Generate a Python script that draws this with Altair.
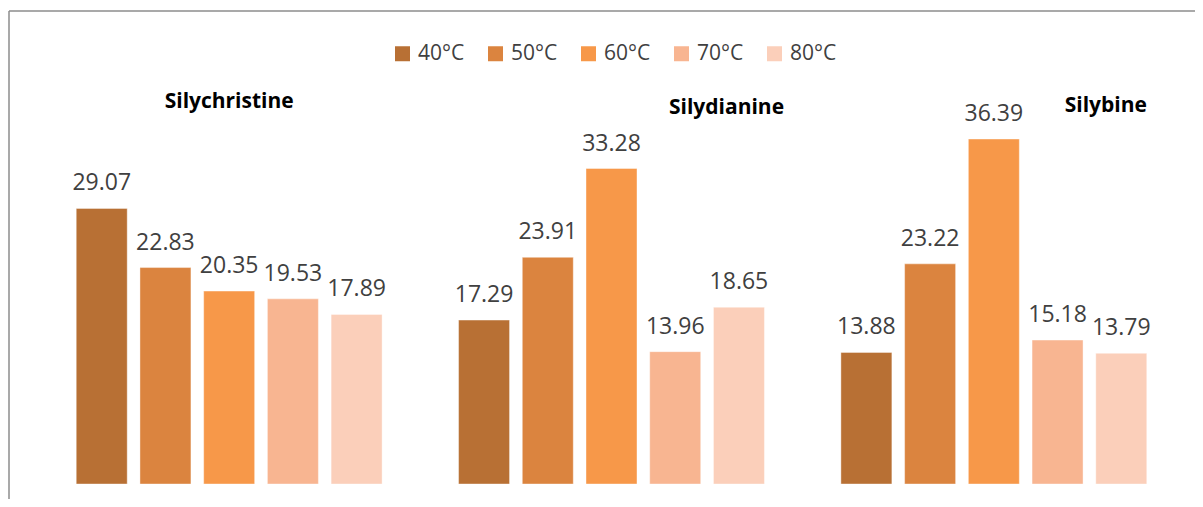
import altair as alt
import pandas as pd

groups = ["Silychristine", "Silydianine", "Silybine"]
temps = ["40°C", "50°C", "60°C", "70°C", "80°C"]
silychristine = [29.07, 22.83, 20.35, 19.53, 17.89]
silydianine = [17.29, 23.91, 33.28, 13.96, 18.65]
silybine = [13.88, 23.22, 36.39, 15.18, 13.79]
colors = ["#B87034", "#DB843F", "#F79849", "#F8B591", "#FBCFBA"]

series = {"Silychristine": silychristine, "Silydianine": silydianine, "Silybine": silybine}
rows = []
for g in groups:
    for t, v in zip(temps, series[g]):
        rows.append({"group": g, "temp": t, "value": v})
df = pd.DataFrame(rows)
titles_df = pd.DataFrame({"group": groups})

FONT = "Open Sans"

x_enc = alt.X("group:N", sort=groups, axis=None,
              scale=alt.Scale(paddingInner=0.2, paddingOuter=0.1))
xoff_enc = alt.XOffset("temp:N", sort=temps,
                       scale=alt.Scale(paddingInner=0.2, paddingOuter=0))
y_enc = alt.Y("value:Q", axis=None, scale=alt.Scale(domain=[0, 50]))

base = alt.Chart(df)

bars = base.mark_bar(stroke="#ffffff", strokeWidth=0.8, strokeOpacity=0.5).encode(
    x=x_enc,
    xOffset=xoff_enc,
    y=y_enc,
    color=alt.Color(
        "temp:N", sort=temps,
        scale=alt.Scale(domain=temps, range=colors),
        legend=alt.Legend(
            title=None, orient="none", direction="horizontal",
            legendX=354, legendY=33, symbolType="square", symbolSize=225,
            symbolStrokeWidth=0, labelFont=FONT, labelFontSize=21,
            labelColor="#404040", labelOffset=5, columnPadding=20,
            padding=0,
        ),
    ),
)

labels = base.mark_text(
    font=FONT, fontSize=23, color="#404040", baseline="alphabetic", dy=-18
).encode(
    x=x_enc,
    xOffset=xoff_enc,
    y=y_enc,
    text=alt.Text("value:Q", format=".2f"),
)

title_style = {"Silychristine": (0, 98), "Silydianine": (115, 104), "Silybine": (112, 102)}
title_layers = []
for g in groups:
    dx, yy = title_style[g]
    title_layers.append(
        alt.Chart(titles_df).transform_filter(alt.datum.group == g)
        .mark_text(font=FONT, fontSize=21, fontWeight="bold", color="#000000",
                   baseline="alphabetic", dx=dx)
        .encode(x=x_enc, y=alt.value(yy), text="group:N")
    )

one = pd.DataFrame({"a": [0]})
left_border = alt.Chart(one).mark_rule(color="#8c8c8c", strokeWidth=1.5).encode(
    x=alt.value(-29), y=alt.value(1), y2=alt.value(520)
)
top_border = alt.Chart(one).mark_rule(color="#8c8c8c", strokeWidth=1.5).encode(
    x=alt.value(-29), x2=alt.value(1220), y=alt.value(1)
)

chart = alt.layer(left_border, top_border, bars, labels, *title_layers).properties(
    width=1147, height=474,
    autosize=alt.AutoSizeParams(type="none"),
    padding={"left": 30, "top": 2, "right": 10, "bottom": 15},
).configure_view(stroke=None)

chart.save("out.html", embed_options={"renderer": "svg", "actions": False})
